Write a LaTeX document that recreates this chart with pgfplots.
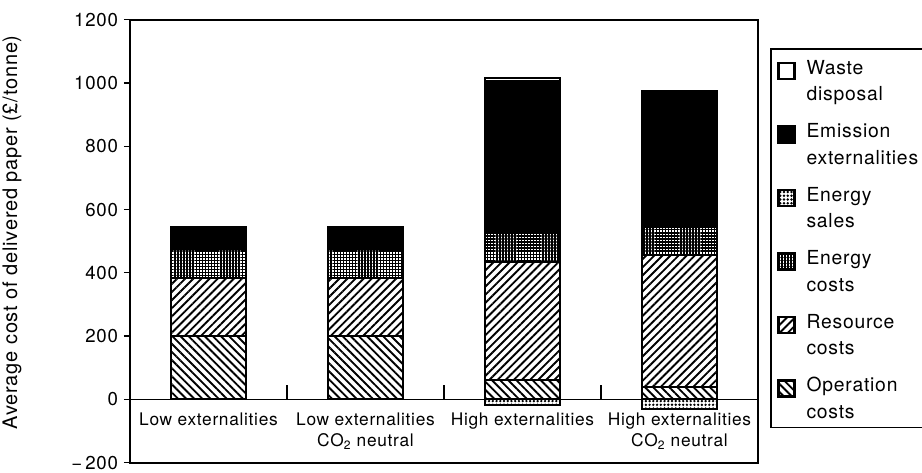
\documentclass[border=0pt]{standalone}
\usepackage{fontspec}
\setmainfont{TeX Gyre Heros}[LetterSpace=4]
\usepackage{pgfplots}
\usepackage{pgfplotstable}
\pgfplotsset{compat=1.18}
\usetikzlibrary{patterns.meta}
\renewcommand{\arraystretch}{1.2}
\pgfplotsset{
  sqlegend/.style={legend image code/.code={\draw[##1,line width=1.8pt] (0pt,16.3pt) rectangle (12pt,28.3pt);}},
  opstyle/.style={draw=black, line width=1.5pt, pattern={Lines[angle=-45,distance=4.3pt,line width=1.4pt]}},
  resstyle/.style={draw=black, line width=1.5pt, pattern={Lines[angle=45,distance=4.3pt,line width=1.4pt]}},
  ecoststyle/.style={draw=black, line width=1.5pt, pattern={Hatch[distance=2.3pt,line width=1.1pt]}},
  esalesstyle/.style={draw=black, line width=1.5pt, pattern={Dots[distance=2.8pt,radius=1pt]}},
  emisstyle/.style={draw=black, line width=1.5pt, fill=black},
  wastestyle/.style={draw=black, line width=1.5pt, fill=white},
}
\pgfplotstableread{
x op res ecost emis waste
0 200 185 90 62 8
1 200 185 90 62 8
2 60 375 90 482 8
3 40 415 90 422 8
}\costs
\pgfplotstableread{
x esales
2 -18
3 -30
}\sales
\begin{document}
\fontsize{13}{16}\selectfont
\begin{tikzpicture}
\begin{axis}[
  scale only axis, width=471pt, height=332.25pt,
  xmin=-0.5, xmax=3.5, ymin=-200, ymax=1200,
  ybar stacked, bar width=56pt,
  axis line style={line width=1.3pt},
  xtick={0,1,2,3},
  xticklabels={Low externalities, {Low externalities\\CO\textsubscript{2} neutral}, High externalities, {High externalities\\CO\textsubscript{2} neutral}},
  x tick style={draw=none},
  xticklabel style={align=center, anchor=north, yshift=46.5pt},
  ytick={-200,0,...,1200},
  yticklabels={−\,200,0,200,400,600,800,1000,1200},
  yticklabel style={font=\fontsize{14}{16}\selectfont},
  ytick pos=left, tick align=outside, major tick length=4.5pt,
  y tick style={line width=1pt, black},
  every axis y label/.style={at={(axis description cs:-0.188,0.52)}, rotate=90, anchor=center, font=\fontsize{15}{18}\selectfont},
  ylabel={Average cost of delivered paper (£/tonne)},
  legend cell align=left,
  legend style={at={(1,0.935)}, anchor=north west, xshift=9pt, draw=black, line width=1.2pt, inner xsep=5pt, inner ysep=3pt, row sep=8pt, column sep=6pt, font=\fontsize{14.5}{16.5}\selectfont, cells={anchor=base west}},
]
\draw[line width=1.3pt] (axis cs:-0.5,0) -- (axis cs:3.5,0);
\draw[line width=1pt] (axis cs:0.5,0) -- ++(0pt,11pt);
\draw[line width=1pt] (axis cs:1.5,0) -- ++(0pt,11pt);
\draw[line width=1pt] (axis cs:2.5,0) -- ++(0pt,11pt);
\addplot[opstyle, forget plot] table[x=x,y=op]{\costs};
\addplot[resstyle, forget plot] table[x=x,y=res]{\costs};
\addplot[ecoststyle, forget plot] table[x=x,y=ecost]{\costs};
\addplot[emisstyle, forget plot] table[x=x,y=emis]{\costs};
\addplot[wastestyle, forget plot] table[x=x,y=waste]{\costs};
\addlegendimage{sqlegend, wastestyle}
\addlegendentry{\begin{tabular}[b]{@{}l@{}}Waste\\disposal\end{tabular}}
\addlegendimage{sqlegend, emisstyle}
\addlegendentry{\begin{tabular}[b]{@{}l@{}}Emission\\externalities\end{tabular}}
\addlegendimage{sqlegend, esalesstyle}
\addlegendentry{\begin{tabular}[b]{@{}l@{}}Energy\\sales\end{tabular}}
\addlegendimage{sqlegend, ecoststyle}
\addlegendentry{\begin{tabular}[b]{@{}l@{}}Energy\\costs\end{tabular}}
\addlegendimage{sqlegend, resstyle}
\addlegendentry{\begin{tabular}[b]{@{}l@{}}Resource\\costs\end{tabular}}
\addlegendimage{sqlegend, opstyle}
\addlegendentry{\begin{tabular}[b]{@{}l@{}}Operation\\costs\end{tabular}}
\end{axis}
\begin{axis}[
  scale only axis, width=471pt, height=332.25pt,
  xmin=-0.5, xmax=3.5, ymin=-200, ymax=1200,
  hide axis, ybar, bar width=56pt,
]
\addplot[esalesstyle] table[x=x,y=esales]{\sales};
\end{axis}
\pgfresetboundingbox
\path[use as bounding box] (-97.5pt,-7pt) rectangle (594pt,347pt);
\end{tikzpicture}
\end{document}
